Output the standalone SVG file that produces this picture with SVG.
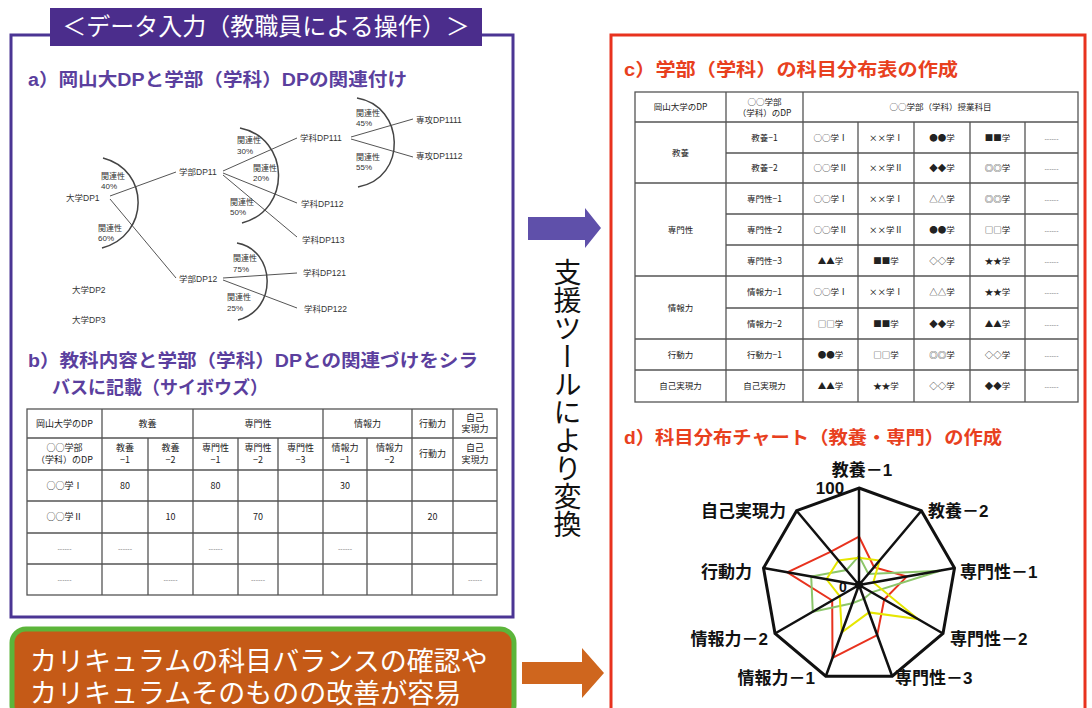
<svg xmlns="http://www.w3.org/2000/svg" width="1092" height="708" viewBox="0 0 1092 708">
<style>
text{font-family:"Liberation Sans","Noto Sans CJK JP",sans-serif}
.t{font-size:8.5px;fill:#333}
.r{font-size:8px;fill:#333}
.tb{font-size:9px;fill:#222;text-anchor:middle;font-family:"Noto Sans CJK JP",sans-serif}
.tc{font-size:8.5px;fill:#222;text-anchor:middle;font-family:"Noto Sans CJK JP",sans-serif}
.ds{font-size:7px;fill:#888;text-anchor:middle}
.ln{stroke:#555;stroke-width:1;fill:none}
.arc{stroke:#444;stroke-width:1.5;fill:none}
.grid{stroke:#555;stroke-width:1.3;fill:none}
.rl{font-size:17px;font-weight:bold;fill:#111}
.ttl{font-size:18px;font-weight:bold}
</style>
<rect width="1092" height="708" fill="#fff"/>

<!-- left input frame -->
<g id="input-frame">
<rect x="11" y="35" width="502" height="582" fill="#fff" stroke="#4b3594" stroke-width="3"/>
<rect x="50" y="8" width="432" height="38" fill="#4b2d8c"/>
<text x="266" y="35" font-size="24" fill="#fff" text-anchor="middle">＜データ入力（教職員による操作）＞</text>
<text x="28" y="86" class="ttl" fill="#5b3f9e" textLength="379" lengthAdjust="spacingAndGlyphs">a）岡山大DPと学部（学科）DPの関連付け</text>
</g>

<!-- tree connectors -->
<g id="tree-connectors">
<path class="ln" d="M110,196 L176,172 M110,199 L176,278 M223,171 L297,138 M223,173 L297,203 M223,175 L297,237 M223,278 L297,273 M223,280 L297,308 M351,137 L413,119 M351,139 L413,157"/>
<path class="arc" d="M103,158 C150,170 150,235 102,248"/>
<path class="arc" d="M240,128 C290,138 292,210 242,223"/>
<path class="arc" d="M237,243 C276,250 278,310 238,320"/>
<path class="arc" d="M357,98 C405,106 408,178 358,187"/>
</g>

<g id="tree-nodes">
<g id="n-dp1"><text class="t" x="66" y="201">大学DP1</text></g>
<g id="n-dp2"><text class="t" x="72" y="293">大学DP2</text></g>
<g id="n-dp3"><text class="t" x="72" y="323">大学DP3</text></g>
<g id="n-dp11"><text class="t" x="179" y="175">学部DP11</text></g>
<g id="n-dp12"><text class="t" x="179" y="282">学部DP12</text></g>
<g id="n-dp111"><text class="t" x="300" y="141">学科DP111</text></g>
<g id="n-dp112"><text class="t" x="301" y="207">学科DP112</text></g>
<g id="n-dp113"><text class="t" x="302" y="243">学科DP113</text></g>
<g id="n-dp121"><text class="t" x="303" y="276">学科DP121</text></g>
<g id="n-dp122"><text class="t" x="304" y="312">学科DP122</text></g>
<g id="n-dp1111"><text class="t" x="416" y="123">専攻DP1111</text></g>
<g id="n-dp1112"><text class="t" x="416" y="159">専攻DP1112</text></g>
<g id="rel-labels">
<text class="r" x="101" y="179">関連性</text><text class="r" x="101" y="189">40%</text>
<text class="r" x="98" y="231">関連性</text><text class="r" x="98" y="241">60%</text>
<text class="r" x="237" y="143">関連性</text><text class="r" x="237" y="154">30%</text>
<text class="r" x="253" y="171">関連性</text><text class="r" x="253" y="181">20%</text>
<text class="r" x="230" y="205">関連性</text><text class="r" x="230" y="215">50%</text>
<text class="r" x="233" y="261">関連性</text><text class="r" x="233" y="272">75%</text>
<text class="r" x="227" y="300">関連性</text><text class="r" x="227" y="311">25%</text>
<text class="r" x="356" y="116">関連性</text><text class="r" x="356" y="126">45%</text>
<text class="r" x="356" y="160">関連性</text><text class="r" x="356" y="170">55%</text>
</g>
</g>

<!-- section b -->
<g id="section-b">
<text x="28" y="367" class="ttl" fill="#5b3f9e" textLength="450" lengthAdjust="spacingAndGlyphs">b）教科内容と学部（学科）DPとの関連づけをシラ</text>
<text x="52" y="394" class="ttl" fill="#5b3f9e">バスに記載（サイボウズ）</text>
<g class="grid">
<rect x="27" y="409" width="470" height="186"/>
<path d="M27,438 H497 M27,470 H497 M27,501 H497 M27,533 H497 M27,564 H497"/>
<path d="M102,409 V595 M193,409 V595 M323,409 V595 M412,409 V595 M453,409 V595"/>
<path d="M148,438 V595 M238,438 V595 M278,438 V595 M367,438 V595"/>
</g>
<text class="tb" x="64.5" y="427">岡山大学のDP</text>
<text class="tb" x="147.5" y="427">教養</text>
<text class="tb" x="258" y="427">専門性</text>
<text class="tb" x="367.5" y="427">情報力</text>
<text class="tb" x="432.5" y="427">行動力</text>
<text class="tb" x="475" y="421">自己</text><text class="tb" x="475" y="432">実現力</text>
<text class="tb" x="64.5" y="451">○○学部</text><text class="tb" x="64.5" y="463">（学科）のDP</text>
<text class="tb" x="125" y="451">教養</text><text class="tb" x="125" y="463">−1</text>
<text class="tb" x="170.5" y="451">教養</text><text class="tb" x="170.5" y="463">−2</text>
<text class="tb" x="215.5" y="451">専門性</text><text class="tb" x="215.5" y="463">−1</text>
<text class="tb" x="258" y="451">専門性</text><text class="tb" x="258" y="463">−2</text>
<text class="tb" x="300.5" y="451">専門性</text><text class="tb" x="300.5" y="463">−3</text>
<text class="tb" x="345" y="451">情報力</text><text class="tb" x="345" y="463">−1</text>
<text class="tb" x="389.5" y="451">情報力</text><text class="tb" x="389.5" y="463">−2</text>
<text class="tb" x="432.5" y="457">行動力</text>
<text class="tb" x="475" y="451">自己</text><text class="tb" x="475" y="463">実現力</text>
<text class="tb" x="64.5" y="489">○○学Ⅰ</text>
<text class="tb" x="125" y="489">80</text>
<text class="tb" x="215.5" y="489">80</text>
<text class="tb" x="345" y="489">30</text>
<text class="tb" x="64.5" y="520">○○学Ⅱ</text>
<text class="tb" x="170.5" y="520">10</text>
<text class="tb" x="258" y="520">70</text>
<text class="tb" x="432.5" y="520">20</text>
<text class="ds" x="64.5" y="551">------</text>
<text class="ds" x="125" y="551">------</text>
<text class="ds" x="215.5" y="551">------</text>
<text class="ds" x="345" y="551">------</text>
<text class="ds" x="64.5" y="582">------</text>
<text class="ds" x="170.5" y="582">------</text>
<text class="ds" x="258" y="582">------</text>
<text class="ds" x="475" y="582">------</text>
</g>

<!-- arrows -->
<g id="connectors">
<path id="arrow-convert" d="M528,217 H585 V208 L601,228 L585,248 V240 H528 Z" fill="#5f50aa"/>
<path id="arrow-result" d="M522,662 H582 V648 L604,673 L582,698 V684 H522 Z" fill="#cf661e"/>
</g>

<g id="convert-label">
<text x="565" y="258" font-size="28" fill="#111" style="writing-mode:vertical-rl" font-family="Noto Sans CJK JP, sans-serif">支援ツールにより変換</text>
</g>

<!-- bottom result box -->
<g id="result-box">
<rect x="12" y="629" width="502" height="90" rx="14" fill="#c55a17" stroke="#5cb53a" stroke-width="5"/>
<text x="30" y="671" font-size="27" fill="#fff">カリキュラムの科目バランスの確認や</text>
<text x="30" y="703" font-size="27" fill="#fff">カリキュラムそのものの改善が容易</text>
</g>

<!-- right output frame -->
<g id="output-frame">
<rect x="611" y="35" width="474" height="700" fill="none" stroke="#e8321e" stroke-width="3"/>
<text x="624" y="76" class="ttl" fill="#e8401e" textLength="334" lengthAdjust="spacingAndGlyphs">c）学部（学科）の科目分布表の作成</text>
<text x="624" y="444" class="ttl" fill="#e8401e" textLength="378" lengthAdjust="spacingAndGlyphs">d）科目分布チャート（教養・専門）の作成</text>
</g>

<!-- table c -->
<g id="table-c">
<g class="grid">
<rect x="635" y="92" width="443" height="310"/>
<path d="M635,122 H1078 M635,183 H1078 M635,276 H1078 M635,339 H1078 M635,370 H1078"/>
<path d="M726,153 H1078 M726,214 H1078 M726,245 H1078 M726,308 H1078"/>
<path d="M726,92 V402 M803,92 V402 M858,122 V402 M914,122 V402 M970,122 V402 M1025,122 V402"/>
</g>
<text class="tc" x="680.5" y="110">岡山大学のDP</text>
<text class="tc" x="764.5" y="105">○○学部</text><text class="tc" x="764.5" y="116">（学科）のDP</text>
<text class="tc" x="940.5" y="110">○○学部（学科）授業科目</text>
<text class="tc" x="680.5" y="156">教養</text>
<text class="tc" x="680.5" y="233">専門性</text>
<text class="tc" x="680.5" y="311">情報力</text>
<text class="tc" x="680.5" y="358">行動力</text>
<text class="tc" x="680.5" y="389">自己実現力</text>
<g id="c-rows">
<text class="tc" x="764.5" y="141">教養−1</text><text class="tc" x="830.5" y="141">○○学Ⅰ</text><text class="tc" x="886" y="141">××学Ⅰ</text><text class="tc" x="942" y="141">●●学</text><text class="tc" x="997.5" y="141">■■学</text><text class="ds" x="1051.5" y="141">------</text>
<text class="tc" x="764.5" y="171">教養−2</text><text class="tc" x="830.5" y="171">○○学Ⅱ</text><text class="tc" x="886" y="171">××学Ⅱ</text><text class="tc" x="942" y="171">◆◆学</text><text class="tc" x="997.5" y="171">◎◎学</text><text class="ds" x="1051.5" y="171">------</text>
<text class="tc" x="764.5" y="202">専門性−1</text><text class="tc" x="830.5" y="202">○○学Ⅰ</text><text class="tc" x="886" y="202">××学Ⅰ</text><text class="tc" x="942" y="202">△△学</text><text class="tc" x="997.5" y="202">◎◎学</text><text class="ds" x="1051.5" y="202">------</text>
<text class="tc" x="764.5" y="233">専門性−2</text><text class="tc" x="830.5" y="233">○○学Ⅱ</text><text class="tc" x="886" y="233">××学Ⅱ</text><text class="tc" x="942" y="233">●●学</text><text class="tc" x="997.5" y="233">□□学</text><text class="ds" x="1051.5" y="233">------</text>
<text class="tc" x="764.5" y="264">専門性−3</text><text class="tc" x="830.5" y="264">▲▲学</text><text class="tc" x="886" y="264">■■学</text><text class="tc" x="942" y="264">◇◇学</text><text class="tc" x="997.5" y="264">★★学</text><text class="ds" x="1051.5" y="264">------</text>
<text class="tc" x="764.5" y="295">情報力−1</text><text class="tc" x="830.5" y="295">○○学Ⅰ</text><text class="tc" x="886" y="295">××学Ⅰ</text><text class="tc" x="942" y="295">△△学</text><text class="tc" x="997.5" y="295">★★学</text><text class="ds" x="1051.5" y="295">------</text>
<text class="tc" x="764.5" y="327">情報力−2</text><text class="tc" x="830.5" y="327">□□学</text><text class="tc" x="886" y="327">■■学</text><text class="tc" x="942" y="327">◆◆学</text><text class="tc" x="997.5" y="327">▲▲学</text><text class="ds" x="1051.5" y="327">------</text>
<text class="tc" x="764.5" y="358">行動力−1</text><text class="tc" x="830.5" y="358">●●学</text><text class="tc" x="886" y="358">□□学</text><text class="tc" x="942" y="358">◎◎学</text><text class="tc" x="997.5" y="358">◇◇学</text><text class="ds" x="1051.5" y="358">------</text>
<text class="tc" x="764.5" y="389">自己実現力</text><text class="tc" x="830.5" y="389">▲▲学</text><text class="tc" x="886" y="389">★★学</text><text class="tc" x="942" y="389">◇◇学</text><text class="tc" x="997.5" y="389">◆◆学</text><text class="ds" x="1051.5" y="389">------</text>
</g>
</g>

<!-- radar chart -->
<g id="radar-chart">
<polygon points="859,536.5 874,567.2 906.8,576.6 884.2,599.6 877.2,635.1 832.5,657.9 832.2,600.5 787.3,572.3 830.9,551.6" fill="none" stroke="#e8321e" stroke-width="2"/>
<polygon points="859,555.9 868.4,573.9 940.2,570.7 871.6,592.3 864,598.7 852.4,603.2 812.8,611.7 811.2,576.6 846.5,570.1" fill="none" stroke="#8cc66a" stroke-width="2"/>
<polygon points="859,557.8 879.6,560.5 873.3,582.5 917.9,619 869,612.4 841.8,632.4 839.7,596.2 826.5,579.3 838.4,560.5" fill="none" stroke="#e6e600" stroke-width="2"/>
<path d="M859,585 L859,488 M859,585 L921.4,510.7 M859,585 L954.5,568.1 M859,585 L943,633.5 M859,585 L892.2,676.2 M859,585 L825.8,676.2 M859,585 L775,633.5 M859,585 L763.5,568.1 M859,585 L796.6,510.7" stroke="#111" stroke-width="2.5" fill="none"/>
<polygon points="859,488 921.4,510.7 954.5,568.1 943,633.5 892.2,676.2 825.8,676.2 775,633.5 763.5,568.1 796.6,510.7" fill="none" stroke="#111" stroke-width="3" stroke-linejoin="miter"/>
<circle cx="859" cy="585" r="4" fill="#111"/>
<text x="843" y="592" font-size="14" font-weight="bold" fill="#111" text-anchor="middle">0</text>
<text x="830" y="494" font-size="17" font-weight="bold" fill="#111" text-anchor="middle">100</text>
<text class="rl" x="862" y="476" text-anchor="middle">教養－1</text>
<text class="rl" x="928" y="517">教養－2</text>
<text class="rl" x="960" y="578">専門性－1</text>
<text class="rl" x="950" y="645">専門性－2</text>
<text class="rl" x="895" y="684">専門性－3</text>
<text class="rl" x="815" y="684" text-anchor="end">情報力－1</text>
<text class="rl" x="768" y="645" text-anchor="end">情報力－2</text>
<text class="rl" x="752" y="578" text-anchor="end">行動力</text>
<text class="rl" x="786" y="517" text-anchor="end">自己実現力</text>
</g>
</svg>
